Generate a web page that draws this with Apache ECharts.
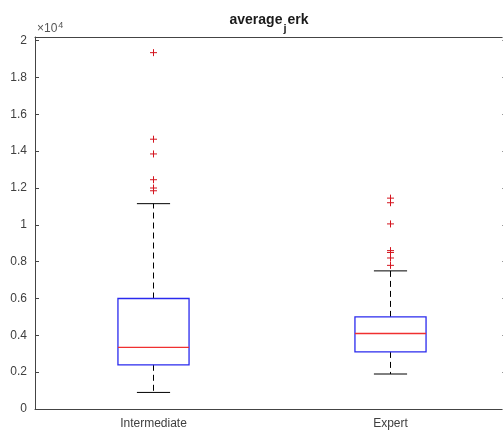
<!DOCTYPE html>
<html><head><meta charset="utf-8">
<script src="https://cdn.jsdelivr.net/npm/echarts@6/dist/echarts.min.js"></script>
<style>html,body{margin:0;padding:0;background:#fff}#c{width:503px;height:439px}</style>
</head><body><div id="c"></div>
<script>
const categories = ['Intermediate', 'Expert'];
const lowerWhisker = [900, 1900];
const q1 = [2400, 3100];
const median = [3350, 4100];
const q3 = [6000, 5000];
const upperWhisker = [11150, 7500];
const outliersIntermediate = [19350, 14650, 13850, 12450, 12000, 11850];
const outliersExpert = [11450, 11200, 10050, 8600, 8500, 8200, 7800];
const yTickValues = [0, 2000, 4000, 6000, 8000, 10000, 12000, 14000, 16000, 18000, 20000];

const boxData = categories.map((c, i) => [i, lowerWhisker[i], q1[i], median[i], q3[i], upperWhisker[i]]);
const outlierData = [];
outliersIntermediate.forEach(v => outlierData.push([0, v]));
outliersExpert.forEach(v => outlierData.push([1, v]));

const axisColor = '#444';
const labelColor = '#404040';
const font = 'Liberation Sans, Arial, sans-serif';

const chart = echarts.init(document.getElementById('c'), null, {renderer: 'canvas'});
chart.setOption({
  animation: false,
  backgroundColor: '#fff',
  title: {
    text: '{a|average}{s|j}{a|erk}',
    left: 264, top: 8, textAlign: 'center',
    textStyle: {
      rich: {
        a: {fontFamily: font, fontSize: 14, fontWeight: 'bold', color: '#1a1a1a'},
        s: {fontFamily: font, fontSize: 11, fontWeight: 'bold', color: '#1a1a1a', verticalAlign: 'bottom', padding: [0, 1, -7, 1]}
      }
    }
  },
  graphic: [{
    type: 'text', left: 37, top: 21,
    style: {
      text: '{a|\u00d710}{b|4}',
      rich: {
        a: {fontFamily: font, fontSize: 12, fill: '#555'},
        b: {fontFamily: font, fontSize: 9, fill: '#555', verticalAlign: 'top', padding: [0, 0, 6, 1]}
      }
    }
  }],
  grid: {left: 35, top: 37, width: 474, bottom: 30, containLabel: false, outerBoundsMode: 'none'},
  xAxis: [{
    type: 'category', data: categories, position: 'bottom',
    axisLine: {onZero: false, lineStyle: {color: axisColor, width: 1}},
    axisTick: {inside: true, alignWithLabel: true, length: 4, lineStyle: {color: axisColor}},
    axisLabel: {color: labelColor, fontFamily: font, fontSize: 12, margin: 9},
    splitLine: {show: false}
  }, {
    type: 'category', data: categories, position: 'top',
    axisLine: {onZero: false, lineStyle: {color: axisColor, width: 1}},
    axisTick: {inside: true, alignWithLabel: true, length: 4, lineStyle: {color: axisColor}},
    axisLabel: {show: false}
  }],
  yAxis: [{
    type: 'value', min: 0, max: 20200, interval: 2000, position: 'left',
    axisLine: {show: true, onZero: false, lineStyle: {color: axisColor, width: 1}},
    axisTick: {show: true, inside: true, length: 4, lineStyle: {color: axisColor}},
    axisLabel: {
      color: labelColor, fontFamily: font, fontSize: 12, margin: 8,
      formatter: v => yTickValues.indexOf(v) >= 0 ? String(+(v / 10000).toFixed(1)) : ''
    },
    splitLine: {show: false}
  }, {
    type: 'value', min: 0, max: 20200, interval: 2000, position: 'right',
    axisLine: {show: true, onZero: false, lineStyle: {color: axisColor, width: 1}},
    axisTick: {show: true, inside: true, length: 7, lineStyle: {color: '#999'}},
    axisLabel: {show: false},
    splitLine: {show: false}
  }],
  series: [{
    type: 'custom',
    xAxisIndex: 0, yAxisIndex: 0,
    data: boxData,
    renderItem: function (params, api) {
      const idx = api.value(0);
      const band = api.size([1, 0])[0];
      const cx = api.coord([idx, 0])[0];
      const boxHalf = band * 0.15;
      const capHalf = band * 0.07;
      const yLW = api.coord([idx, api.value(1)])[1];
      const yQ1 = api.coord([idx, api.value(2)])[1];
      const yMed = api.coord([idx, api.value(3)])[1];
      const yQ3 = api.coord([idx, api.value(4)])[1];
      const yUW = api.coord([idx, api.value(5)])[1];
      const dash = {stroke: '#000', lineWidth: 1, lineDash: [6, 4], fill: null};
      const solid = {stroke: '#000', lineWidth: 1, fill: null};
      return {
        type: 'group',
        children: [
          {type: 'line', shape: {x1: cx, y1: yQ3, x2: cx, y2: yUW}, style: dash},
          {type: 'line', shape: {x1: cx, y1: yQ1, x2: cx, y2: yLW}, style: dash},
          {type: 'line', shape: {x1: cx - capHalf, y1: yUW, x2: cx + capHalf, y2: yUW}, style: solid},
          {type: 'line', shape: {x1: cx - capHalf, y1: yLW, x2: cx + capHalf, y2: yLW}, style: solid},
          {type: 'rect', shape: {x: cx - boxHalf, y: yQ3, width: boxHalf * 2, height: yQ1 - yQ3},
           style: {stroke: '#2a2aee', lineWidth: 1.3, fill: null}},
          {type: 'line', shape: {x1: cx - boxHalf, y1: yMed, x2: cx + boxHalf, y2: yMed},
           style: {stroke: '#f03030', lineWidth: 1.3, fill: null}}
        ]
      };
    }
  }, {
    type: 'custom',
    xAxisIndex: 0, yAxisIndex: 0,
    data: outlierData,
    renderItem: function (params, api) {
      const p = api.coord([api.value(0), api.value(1)]);
      const h = 3.5;
      const st = {stroke: '#d4141e', lineWidth: 1, fill: null};
      return {
        type: 'group',
        children: [
          {type: 'line', shape: {x1: p[0] - h, y1: p[1], x2: p[0] + h, y2: p[1]}, style: st},
          {type: 'line', shape: {x1: p[0], y1: p[1] - h, x2: p[0], y2: p[1] + h}, style: st}
        ]
      };
    }
  }]
});
</script></body></html>
